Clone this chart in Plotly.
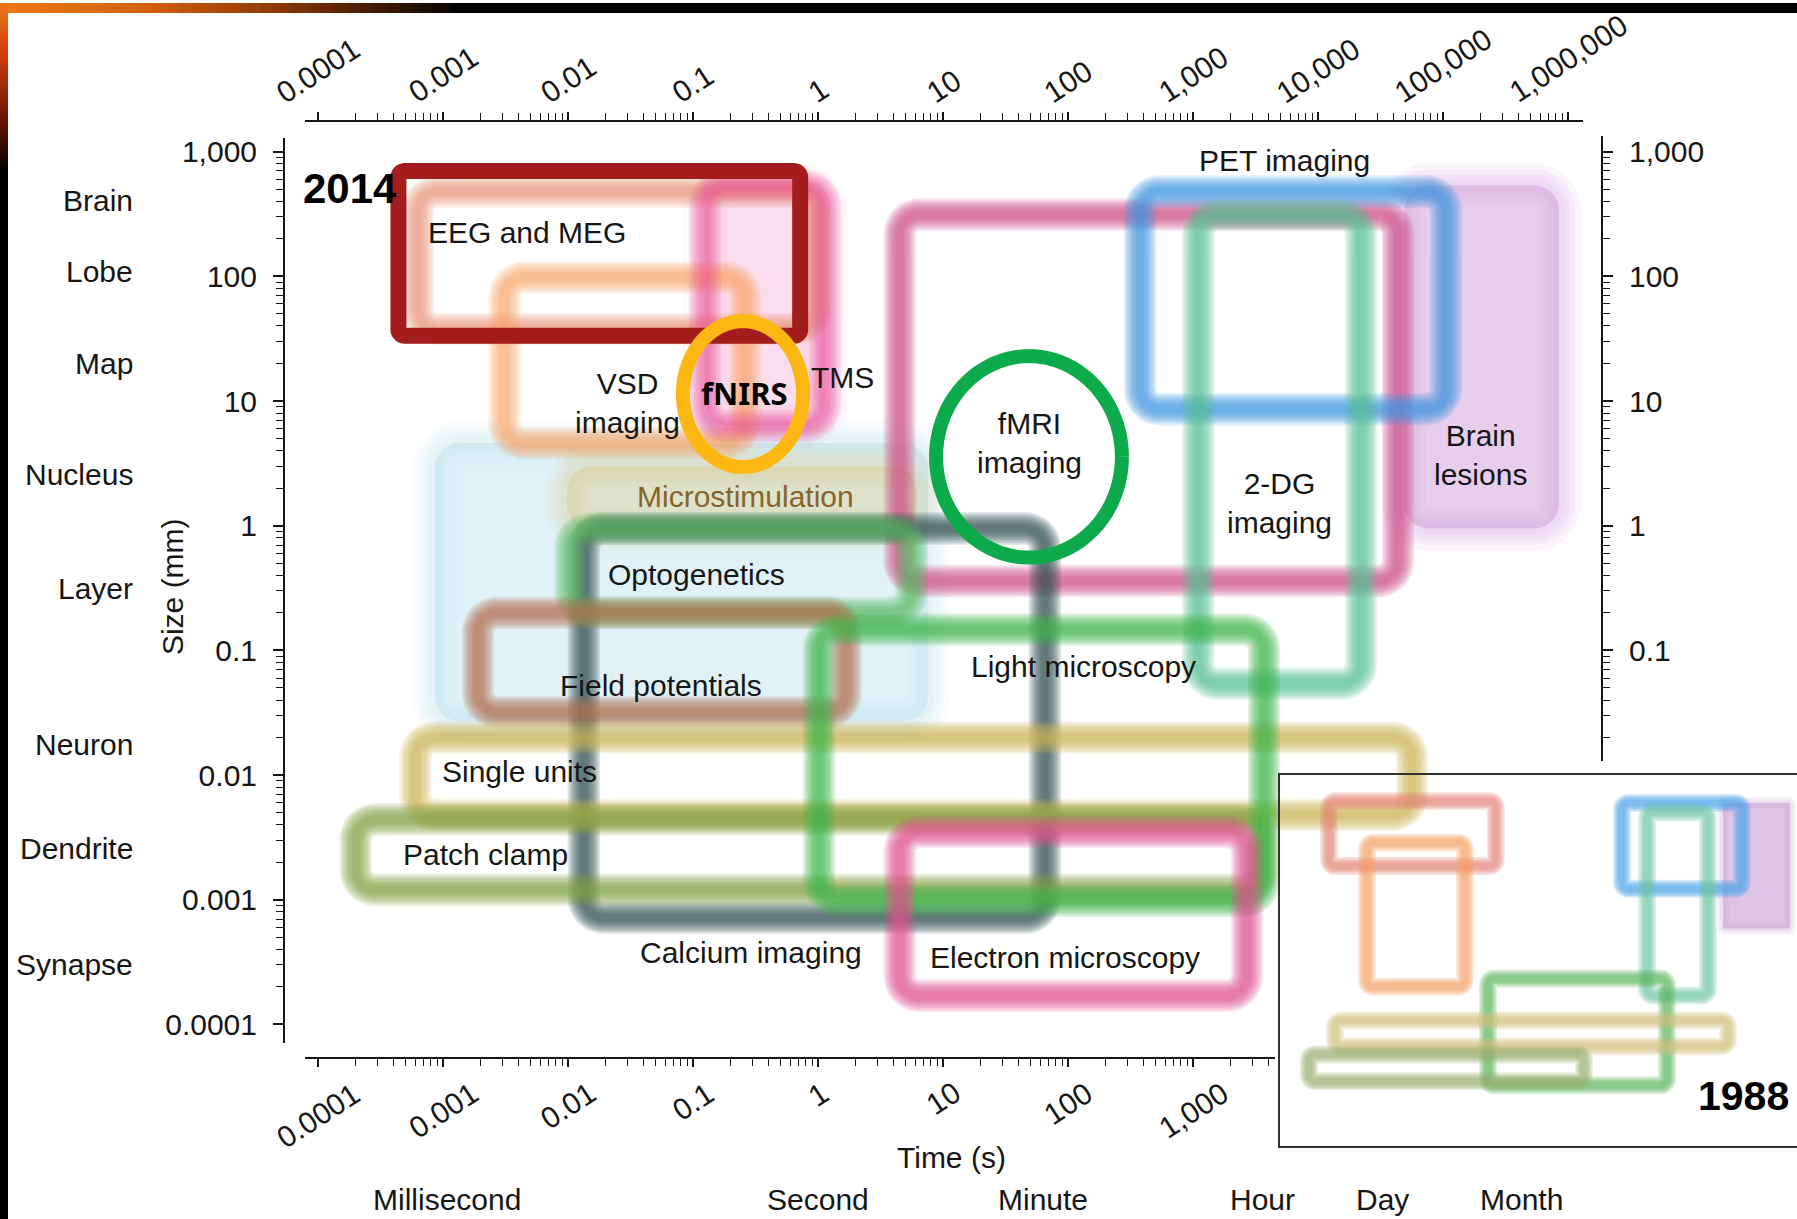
import numpy as np
import plotly.graph_objects as go

W, H = 1797, 1219
FONT = "Liberation Sans, Arial, Helvetica, sans-serif"
INK = "#161616"
FS = 30

# ---------------- axis ticks ----------------
time_ticks = [1e-4, 1e-3, 1e-2, 1e-1, 1, 10, 100, 1e3, 1e4, 1e5, 1e6]
time_tick_text = ["0.0001", "0.001", "0.01", "0.1", "1", "10", "100", "1,000",
                  "10,000", "100,000", "1,000,000"]
size_ticks = [1e-4, 1e-3, 1e-2, 1e-1, 1, 10, 100, 1e3]
size_tick_text = ["0.0001", "0.001", "0.01", "0.1", "1", "10", "100", "1,000"]

# named spatial scales (mm) and time-unit labels (s)
scale_names = ["Brain", "Lobe", "Map", "Nucleus", "Layer", "Neuron", "Dendrite", "Synapse"]
scale_mm = [406, 110, 20.1, 2.56, 0.313, 0.0177, 0.0026, 0.0003]
unit_names = ["Millisecond", "Second", "Minute", "Hour", "Day", "Month"]
unit_label_pos = [0.00108, 1, 63, 3630, 33100, 421000]

# ---------------- 2014 panel: technique extents ----------------
tech = ["EEG and MEG", "VSD imaging", "TMS", "fMRI imaging", "PET imaging", "2-DG imaging",
        "Calcium imaging", "Optogenetics", "Field potentials", "Single units", "Patch clamp",
        "Light microscopy", "Electron microscopy"]
t_min = [6.3e-4, 3.1e-3, 0.125, 4.5, 377, 1100, 0.0134, 0.0104, 1.9e-3, 6.0e-4, 2.0e-4, 1.02, 4.5]
t_max = [0.96, 0.26, 1.14, 43600, 105700, 22100, 65.5, 5.55, 1.67, 56500, 3500, 3700, 2700]
s_min = [37.7, 4.6, 6.3, 0.36, 8.6, 0.054, 0.00072, 0.20, 0.032, 0.0048, 0.0012, 0.00098, 0.00017]
s_max = [479, 98, 535, 313, 479, 313, 0.95, 0.946, 0.20, 0.020, 0.0044, 0.147, 0.0035]
tech_color = ["#E58A6E", "#F7A267", "#E54F98", "#CF4F8B", "#3F95DE", "#55BF94",
              "#34514F", "#5DBB63", "#B5704E", "#CDB65A", "#849F45", "#3DB54A", "#E0508F"]
tech_strength = [0.8, 0.9, 0.6, 1, 1, 1, 1, 0.9, 1, 1, 1, 1, 1]

# shaded (filled) regions
region = ["Optogenetics", "Microstimulation", "Brain lesions", "TMS"]
reg_t_min = [8.6e-4, 9.8e-3, 48800, 0.125]
reg_t_max = [7.6, 6.2, 847000, 1.14]
reg_s_min = [0.027, 0.91, 0.95, 6.3]
reg_s_max = [4.6, 3.0, 535, 535]
reg_color = ["#A8DCEB", "#D8C57E", "#D3A5DE", "#EE7AB4"]
reg_alpha = [0.45, 0.45, 0.68, 0.32]

# technique labels: (text, time, size, anchor)
labels = [
    ("EEG and MEG", 7.3e-4, 225, "left"),
    ("PET imaging", 5350, 847, "center"),
    ("VSD<br>imaging", 0.030, 9.6, "center"),
    ("TMS", 1.56, 15.3, "center"),
    ("fMRI<br>imaging", 48.8, 4.6, "center"),
    ("2-DG<br>imaging", 4880, 1.53, "center"),
    ("Brain<br>lesions", 201000, 3.7, "center"),
    ("Optogenetics", 0.106, 0.405, "center"),
    ("Light microscopy", 134, 0.0745, "center"),
    ("Field potentials", 0.0555, 0.0525, "center"),
    ("Single units", 4.13e-3, 0.0106, "center"),
    ("Patch clamp", 2.17e-3, 2.29e-3, "center"),
    ("Calcium imaging", 0.291, 3.77e-4, "center"),
    ("Electron microscopy", 94.6, 3.44e-4, "center"),
]
microstim_label = ("Microstimulation", 0.265, 1.71)

# highlighted methods
eeg_box_t = [4.4e-4, 0.72]
eeg_box_s = [33.4, 698]
fnirs_t = [0.083, 0.76]
fnirs_s = [2.96, 43.7]
fmri_t = [8.8, 270]
fmri_s = [0.555, 22.9]
fnirs_label = ("fNIRS", 0.26, 11.6)

# ---------------- 1988 panel ----------------
in_tech = ["EEG and MEG", "Optical dyes", "PET", "2-DG", "Light microscopy",
           "Single units", "Patch clamp"]
in_t_min = [1.23e-3, 8.6e-3, 4050, 14600, 4.23, 1.67e-3, 4.4e-4]
in_t_max = [6.3, 1.30, 1.89e6, 331000, 40500, 920000, 575]
in_s_min = [34.7, 0.087, 11.2, 0.056, 6.5e-4, 4.5e-3, 7.9e-4]
in_s_max = [871, 110, 794, 501, 0.13, 0.0162, 0.003]
in_color = ["#E28478", "#F5A063", "#48A6E6", "#6CC3A6", "#5CB85C", "#D3C07A", "#95AE6C"]
in_lesion_t = [716000, 2.19e7]
in_lesion_s = [1.55, 794]


def rgba(hexc, a):
    h = hexc.lstrip("#")
    r, g, b = int(h[0:2], 16), int(h[2:4], 16), int(h[4:6], 16)
    return f"rgba({r},{g},{b},{a:.3f})"


def rounded(t0, t1, s0, s1, r=0.16, n=12, overlap=True):
    """Rounded rectangle in log space, returned as data values."""
    x0, x1 = np.log10(t0), np.log10(t1)
    y0, y1 = np.log10(s0), np.log10(s1)
    r = min(r, (x1 - x0) / 2, (y1 - y0) / 2)
    xs, ys = [(x0 + x1) / 2], [y1]
    for cx, cy, a0 in [(x0 + r, y1 - r, 90), (x0 + r, y0 + r, 180),
                       (x1 - r, y0 + r, 270), (x1 - r, y1 - r, 0)]:
        th = np.radians(np.linspace(a0, a0 + 90, n))
        xs.extend(cx + r * np.cos(th))
        ys.extend(cy + r * np.sin(th))
    xs.append(xs[0])
    ys.append(ys[0])
    if overlap:
        # run a little past the start so the stroke has no seam
        xs.append(x0 + r)
        ys.append(y1)
    return 10 ** np.array(xs), 10 ** np.array(ys)


def ellipse(t_rng, s_rng, n=160):
    lx = np.log10(t_rng)
    ly = np.log10(s_rng)
    cx, rx = lx.mean(), (lx[1] - lx[0]) / 2
    cy, ry = ly.mean(), (ly[1] - ly[0]) / 2
    th = np.linspace(0, 2 * np.pi * 1.03, n)
    return 10 ** (cx + rx * np.cos(th)), 10 ** (cy + ry * np.sin(th))


fig = go.Figure()
BLUR = [(f, 0.16) for f in np.linspace(2.7, 0.6, 8)]


def line_trace(x, y, color, width, xa="x", ya="y"):
    return go.Scatter(x=x, y=y, mode="lines", xaxis=xa, yaxis=ya,
                      line=dict(color=color, width=width, simplify=False),
                      hoverinfo="skip", showlegend=False)


def soft_outline(x, y, color, w, xa="x", ya="y", layers=BLUR, k=1.0):
    for f, a in layers:
        fig.add_trace(line_trace(x, y, rgba(color, a * k), w * f, xa, ya))


def soft_fill(x, y, color, alpha, xa="x", ya="y", edge=(44, 32, 22, 12)):
    fig.add_trace(go.Scatter(x=x, y=y, mode="lines", fill="toself", xaxis=xa, yaxis=ya,
                             fillcolor=rgba(color, alpha * 0.8),
                             line=dict(width=0, simplify=False),
                             hoverinfo="skip", showlegend=False))
    for w in edge:
        fig.add_trace(line_trace(x, y, rgba(color, 0.09 * alpha / 0.5), w, xa, ya))


# shaded regions first
for i in range(len(region)):
    x, y = rounded(reg_t_min[i], reg_t_max[i], reg_s_min[i], reg_s_max[i], r=0.2)
    soft_fill(x, y, reg_color[i], reg_alpha[i])

# technique outlines
for i in range(len(tech)):
    x, y = rounded(t_min[i], t_max[i], s_min[i], s_max[i])
    soft_outline(x, y, tech_color[i], 12, k=tech_strength[i])

# highlighted methods
x, y = rounded(eeg_box_t[0], eeg_box_t[1], eeg_box_s[0], eeg_box_s[1], r=0.05)
fig.add_trace(line_trace(x, y, "#A31D1D", 16))
x, y = ellipse(fnirs_t, fnirs_s)
fig.add_trace(line_trace(x, y, "#FDB713", 14))
x, y = ellipse(fmri_t, fmri_s)
fig.add_trace(line_trace(x, y, "#0CAA4B", 14))

# invisible anchors for the bottom time axis and the right size axis
fig.add_trace(go.Scatter(x=[1], y=[1], xaxis="x3", yaxis="y", mode="markers",
                         marker=dict(opacity=0), hoverinfo="skip", showlegend=False))
fig.add_trace(go.Scatter(x=[1], y=[1], xaxis="x", yaxis="y3", mode="markers",
                         marker=dict(opacity=0), hoverinfo="skip", showlegend=False))

# 1988 panel
IN_BLUR = [(f, 0.22) for f in np.linspace(2.0, 0.7, 5)]
x, y = rounded(in_lesion_t[0], in_lesion_t[1], in_lesion_s[0], in_lesion_s[1], r=0.05)
soft_fill(x, y, "#C89FD5", 0.75, xa="x2", ya="y2", edge=(12, 8, 4))
for i in range(len(in_tech)):
    x, y = rounded(in_t_min[i], in_t_max[i], in_s_min[i], in_s_max[i], r=0.14)
    soft_outline(x, y, in_color[i], 9, xa="x2", ya="y2", layers=IN_BLUR)

# ---------------- annotations ----------------
ann = []
tf = dict(family=FONT, size=FS, color=INK)
for v, txt in zip(time_ticks, time_tick_text):
    ann.append(dict(x=np.log10(v), xref="x", y=1 - 109 / H, yref="paper", text=txt,
                    textangle=-33, xanchor="center", yanchor="bottom", showarrow=False, font=tf))
for v, txt in zip(time_ticks[:8], time_tick_text[:8]):
    ann.append(dict(x=np.log10(v), xref="x", y=1 - 1073 / H, yref="paper", text=txt,
                    textangle=-33, xanchor="center", yanchor="top", showarrow=False, font=tf))
for name, mm in zip(scale_names, scale_mm):
    ann.append(dict(x=135 / W, xref="paper", y=np.log10(mm), yref="y", text=name,
                    xanchor="right", yanchor="middle", showarrow=False, font=tf))
for name, pos in zip(unit_names, unit_label_pos):
    ann.append(dict(x=np.log10(pos), xref="x", y=1 - 1199 / H, yref="paper", text=name,
                    xanchor="center", yanchor="middle", showarrow=False, font=tf))
ann.append(dict(x=951 / W, xref="paper", y=1 - 1176 / H, yref="paper", text="Time (s)",
                showarrow=False, font=tf))
ann.append(dict(x=154 / W, xref="paper", y=1 - 585 / H, yref="paper", text="Size (mm)",
                textangle=-90, showarrow=False, font=tf))
ann.append(dict(x=301 / W, xref="paper", y=1 - 160 / H, yref="paper", text="<b>2014</b>",
                xanchor="left", showarrow=False, font=dict(family=FONT, size=42, color="#000")))
ann.append(dict(x=1791 / W, xref="paper", y=1 - 1121 / H, yref="paper", text="<b>1988</b>",
                xanchor="right", showarrow=False, font=dict(family=FONT, size=41, color="#000")))
for txt, t, s, anc in labels:
    ann.append(dict(x=np.log10(t), xref="x", y=np.log10(s), yref="y", text=txt,
                    xanchor=anc, showarrow=False, font=tf))
ann.append(dict(x=np.log10(microstim_label[1]), xref="x", y=np.log10(microstim_label[2]),
                yref="y", text=microstim_label[0], showarrow=False,
                font=dict(family=FONT, size=FS, color="#8A6428")))
ann.append(dict(x=np.log10(fnirs_label[1]), xref="x", y=np.log10(fnirs_label[2]), yref="y",
                text="<b>" + fnirs_label[0] + "</b>", showarrow=False,
                font=dict(family="Noto Sans, DejaVu Sans, sans-serif", size=31, color="#000")))

# ---------------- slide frame (black with warm glow) ----------------
shapes = []


def lerp_stops(stops, p):
    for (p0, c0), (p1, c1) in zip(stops[:-1], stops[1:]):
        if p0 <= p <= p1:
            f = (p - p0) / (p1 - p0) if p1 > p0 else 0
            return tuple(int(round(c0[k] + f * (c1[k] - c0[k]))) for k in range(3))
    return stops[-1][1]


top_stops = [(0, (236, 120, 22)), (140, (214, 98, 14)), (280, (140, 55, 8)), (450, (8, 4, 0))]
left_stops = [(0, (236, 120, 22)), (50, (212, 62, 14)), (110, (120, 22, 5)), (170, (0, 0, 0))]
shapes.append(dict(type="rect", xref="paper", yref="paper", x0=0, x1=1, y0=1 - 10 / H, y1=1,
                   fillcolor="#000", line=dict(width=0), layer="above"))
shapes.append(dict(type="rect", xref="paper", yref="paper", x0=0, x1=8 / W, y0=0, y1=1,
                   fillcolor="#000", line=dict(width=0), layer="above"))
step = 10
for px in range(0, 450, step):
    c = lerp_stops(top_stops, px + step / 2)
    shapes.append(dict(type="rect", xref="paper", yref="paper", x0=px / W, x1=(px + step + 1) / W,
                       y0=1 - 10 / H, y1=1, fillcolor=f"rgb{c}", line=dict(width=0), layer="above"))
for py in range(0, 170, 5):
    c = lerp_stops(left_stops, py + 2.5)
    shapes.append(dict(type="rect", xref="paper", yref="paper", x0=0, x1=8 / W,
                       y0=1 - (py + 6) / H, y1=1 - py / H, fillcolor=f"rgb{c}",
                       line=dict(width=0), layer="above"))

# ---------------- axes ----------------
minor_t = [m * 10.0 ** k for k in range(-4, 7) for m in range(2, 10)]
minor_s = [m * 10.0 ** k for k in range(-4, 3) for m in range(2, 10)]
AX = dict(showgrid=False, zeroline=False, showline=True, linecolor=INK, linewidth=2,
          ticks="outside", tickcolor=INK, tickwidth=1.5)
MINOR = dict(ticks="outside", ticklen=7, tickwidth=1.2, tickcolor=INK, showgrid=False)

fig.update_layout(
    width=W, height=H, margin=dict(l=0, r=0, t=0, b=0),
    paper_bgcolor="white", plot_bgcolor="rgba(0,0,0,0)", showlegend=False,
    font=dict(family=FONT, size=FS, color=INK),
    xaxis=dict(type="log", range=[-4.104, 6.12], domain=[305 / W, 1583 / W], anchor="free",
               position=1 - 118 / H, side="top", tickvals=time_ticks, showticklabels=False,
               ticklen=8, minor=dict(tickvals=minor_t, **MINOR), **AX),
    xaxis3=dict(type="log", range=[-4.104, 3.656], domain=[305 / W, 1275 / W], anchor="free",
                position=1 - 1058 / H, side="bottom", tickvals=time_ticks[:8],
                showticklabels=False, ticklen=8, minor=dict(tickvals=minor_t, **MINOR), **AX),
    yaxis=dict(type="log", range=[-4.152, 3.112], domain=[1 - 1043 / H, 1 - 135 / H],
               anchor="free", position=284 / W, side="left", tickvals=size_ticks,
               ticktext=size_tick_text, ticklen=10, ticklabelstandoff=10,
               tickfont=dict(family=FONT, size=FS, color=INK),
               minor=dict(tickvals=minor_s, **MINOR), **AX),
    yaxis3=dict(type="log", range=[-1.888, 3.128], domain=[1 - 760 / H, 1 - 133 / H],
                anchor="free", position=1602 / W, side="right", tickvals=size_ticks[3:],
                ticktext=size_tick_text[3:], ticklen=10, ticklabelstandoff=10,
                tickfont=dict(family=FONT, size=FS, color=INK),
                minor=dict(tickvals=minor_s, **MINOR), **AX),
    xaxis2=dict(type="log", range=[-4, 7.5], domain=[1280 / W, 1.0], anchor="y2",
                showgrid=False, zeroline=False, showline=True, mirror=True,
                linecolor="#333", linewidth=2, showticklabels=False, ticks=""),
    yaxis2=dict(type="log", range=[-4.5, 3.5], domain=[1 - 1146 / H, 1 - 774 / H],
                anchor="x2", showgrid=False, zeroline=False, showline=True,
                linecolor="#333", linewidth=2, showticklabels=False, ticks=""),
    annotations=ann, shapes=shapes,
)

fig.write_html("out.html", config={"displayModeBar": False})
